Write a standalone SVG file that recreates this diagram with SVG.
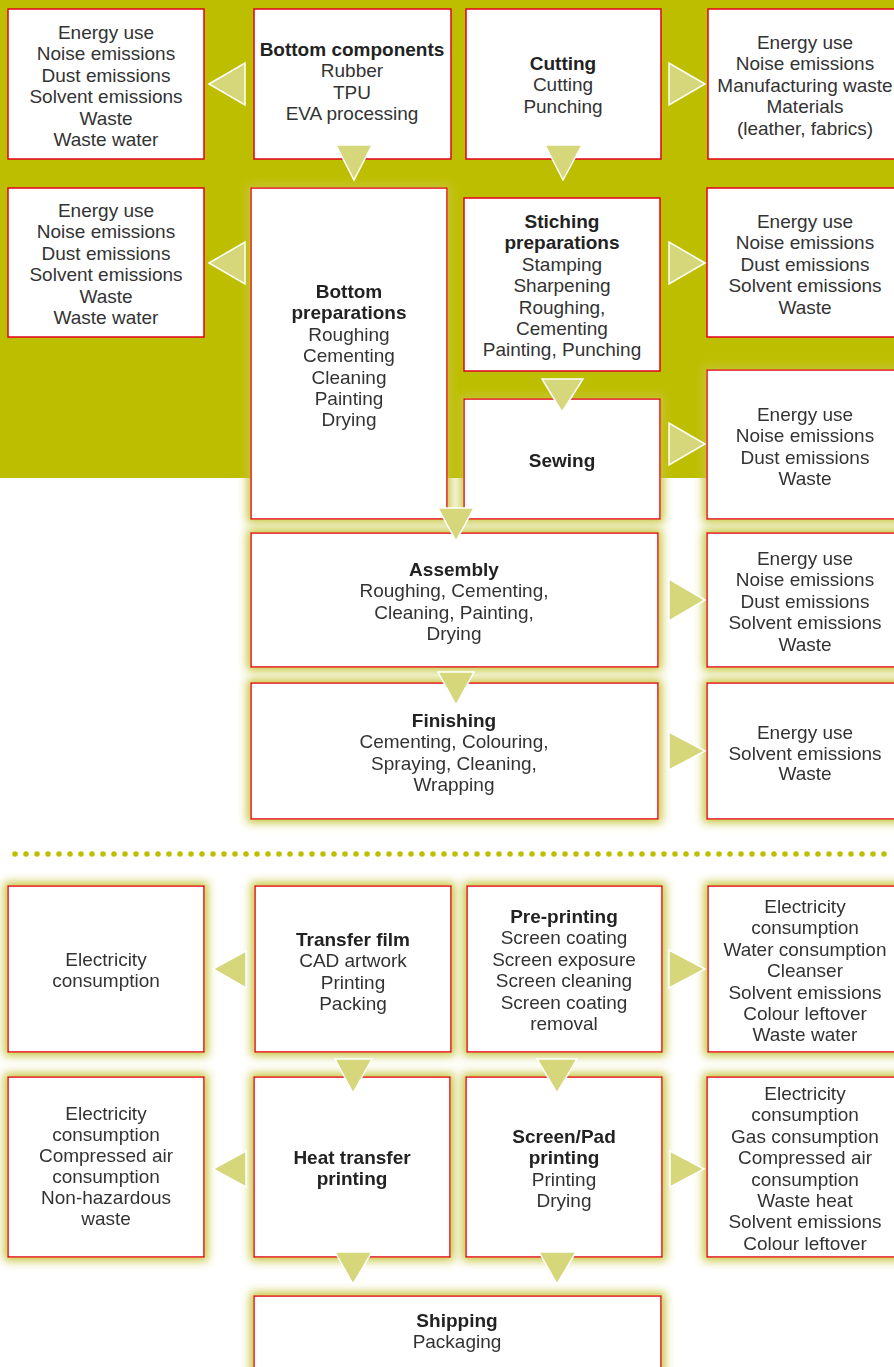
<svg xmlns="http://www.w3.org/2000/svg" width="894" height="1367" viewBox="0 0 894 1367">
  <defs>
    <!-- soft olive halo around each process box -->
    <filter id="glow" x="-20%" y="-20%" width="140%" height="140%">
      <feMorphology in="SourceAlpha" operator="dilate" radius="3" result="grown"/>
      <feGaussianBlur in="grown" stdDeviation="5" result="soft"/>
      <feFlood flood-color="#c4c438" flood-opacity="1"/>
      <feComposite in2="soft" operator="in" result="halo"/>
      <feMerge>
        <feMergeNode in="halo"/>
        <feMergeNode in="SourceGraphic"/>
      </feMerge>
    </filter>
    <style>
      .box { fill: #ffffff; stroke: #e2001a; stroke-width: 1.5; }
      .glow { filter: url(#glow); }
      .arrow { fill: #d6d67a; stroke: #ffffff; stroke-width: 1.5; stroke-linejoin: miter; }
      text { font-family: "Liberation Sans", Arial, sans-serif; font-size: 19px; fill: #333333; text-anchor: middle; }
      .b { font-weight: bold; fill: #222222; }
    </style>
  </defs>

  <!-- production band background -->
  <rect x="0" y="0" width="894" height="478" fill="#bebe00"/>

  <!-- separator between shoe production and printing -->
  <line x1="15" y1="854" x2="894" y2="854" stroke="#bebe00" stroke-width="5.5" stroke-linecap="round" stroke-dasharray="0 11"/>

  <!-- upper section: shoe production -->
  <g id="bottom-components-effects">
    <rect class="box" x="8" y="9" width="196" height="150"/>
    <text x="106" y="39"><tspan x="106" dy="0">Energy use</tspan><tspan x="106" dy="21.4">Noise emissions</tspan><tspan x="106" dy="21.4">Dust emissions</tspan><tspan x="106" dy="21.4">Solvent emissions</tspan><tspan x="106" dy="21.4">Waste</tspan><tspan x="106" dy="21.4">Waste water</tspan></text>
  </g>
  <g id="bottom-components">
    <rect class="box" x="254" y="9" width="197" height="150"/>
    <text x="352" y="56"><tspan class="b" x="352" dy="0">Bottom components</tspan><tspan x="352" dy="21.4">Rubber</tspan><tspan x="352" dy="21.4">TPU</tspan><tspan x="352" dy="21.4">EVA processing</tspan></text>
  </g>
  <g id="cutting">
    <rect class="box" x="466" y="9" width="195" height="150"/>
    <text x="563" y="70"><tspan class="b" x="563" dy="0">Cutting</tspan><tspan x="563" dy="21.4">Cutting</tspan><tspan x="563" dy="21.4">Punching</tspan></text>
  </g>
  <g id="cutting-effects">
    <rect class="box" x="708" y="9" width="196" height="150"/>
    <text x="805" y="49"><tspan x="805" dy="0">Energy use</tspan><tspan x="805" dy="21.4">Noise emissions</tspan><tspan x="805" dy="21.4">Manufacturing waste</tspan><tspan x="805" dy="21.4">Materials</tspan><tspan x="805" dy="21.4">(leather, fabrics)</tspan></text>
  </g>

  <g id="bottom-preparations-effects">
    <rect class="box" x="8" y="188" width="196" height="149"/>
    <text x="106" y="217"><tspan x="106" dy="0">Energy use</tspan><tspan x="106" dy="21.4">Noise emissions</tspan><tspan x="106" dy="21.4">Dust emissions</tspan><tspan x="106" dy="21.4">Solvent emissions</tspan><tspan x="106" dy="21.4">Waste</tspan><tspan x="106" dy="21.4">Waste water</tspan></text>
  </g>
  <g id="bottom-preparations" class="glow">
    <rect class="box" x="251" y="188" width="196" height="331"/>
    <text x="349" y="298"><tspan class="b" x="349" dy="0">Bottom</tspan><tspan class="b" x="349" dy="21.4">preparations</tspan><tspan x="349" dy="21.4">Roughing</tspan><tspan x="349" dy="21.4">Cementing</tspan><tspan x="349" dy="21.4">Cleaning</tspan><tspan x="349" dy="21.4">Painting</tspan><tspan x="349" dy="21.4">Drying</tspan></text>
  </g>
  <g id="stitching-preparations">
    <rect class="box" x="464" y="198" width="196" height="173"/>
    <text x="562" y="228"><tspan class="b" x="562" dy="0">Stiching</tspan><tspan class="b" x="562" dy="21.4">preparations</tspan><tspan x="562" dy="21.4">Stamping</tspan><tspan x="562" dy="21.4">Sharpening</tspan><tspan x="562" dy="21.4">Roughing,</tspan><tspan x="562" dy="21.4">Cementing</tspan><tspan x="562" dy="21.4">Painting, Punching</tspan></text>
  </g>
  <g id="stitching-preparations-effects">
    <rect class="box" x="707" y="188" width="196" height="149"/>
    <text x="805" y="228"><tspan x="805" dy="0">Energy use</tspan><tspan x="805" dy="21.4">Noise emissions</tspan><tspan x="805" dy="21.4">Dust emissions</tspan><tspan x="805" dy="21.4">Solvent emissions</tspan><tspan x="805" dy="21.4">Waste</tspan></text>
  </g>

  <g id="sewing" class="glow">
    <rect class="box" x="464" y="399" width="196" height="120"/>
    <text class="b" x="562" y="467">Sewing</text>
  </g>
  <g id="sewing-effects" class="glow">
    <rect class="box" x="707" y="370" width="196" height="149"/>
    <text x="805" y="421"><tspan x="805" dy="0">Energy use</tspan><tspan x="805" dy="21.4">Noise emissions</tspan><tspan x="805" dy="21.4">Dust emissions</tspan><tspan x="805" dy="21.4">Waste</tspan></text>
  </g>

  <g id="assembly" class="glow">
    <rect class="box" x="251" y="533" width="407" height="134"/>
    <text x="454" y="576"><tspan class="b" x="454" dy="0">Assembly</tspan><tspan x="454" dy="21.4">Roughing, Cementing,</tspan><tspan x="454" dy="21.4">Cleaning, Painting,</tspan><tspan x="454" dy="21.4">Drying</tspan></text>
  </g>
  <g id="assembly-effects" class="glow">
    <rect class="box" x="707" y="533" width="196" height="134"/>
    <text x="805" y="565"><tspan x="805" dy="0">Energy use</tspan><tspan x="805" dy="21.4">Noise emissions</tspan><tspan x="805" dy="21.4">Dust emissions</tspan><tspan x="805" dy="21.4">Solvent emissions</tspan><tspan x="805" dy="21.4">Waste</tspan></text>
  </g>

  <g id="finishing" class="glow">
    <rect class="box" x="251" y="683" width="407" height="136"/>
    <text x="454" y="727"><tspan class="b" x="454" dy="0">Finishing</tspan><tspan x="454" dy="21.4">Cementing, Colouring,</tspan><tspan x="454" dy="21.4">Spraying, Cleaning,</tspan><tspan x="454" dy="21.4">Wrapping</tspan></text>
  </g>
  <g id="finishing-effects" class="glow">
    <rect class="box" x="707" y="683" width="196" height="136"/>
    <text x="805" y="739"><tspan x="805" dy="0">Energy use</tspan><tspan x="805" dy="20.6">Solvent emissions</tspan><tspan x="805" dy="20.6">Waste</tspan></text>
  </g>

  <!-- lower section: printing -->
  <g id="transfer-film-effects" class="glow">
    <rect class="box" x="8" y="886" width="196" height="166"/>
    <text x="106" y="966"><tspan x="106" dy="0">Electricity</tspan><tspan x="106" dy="21.4">consumption</tspan></text>
  </g>
  <g id="transfer-film" class="glow">
    <rect class="box" x="255" y="886" width="196" height="166"/>
    <text x="353" y="946"><tspan class="b" x="353" dy="0">Transfer film</tspan><tspan x="353" dy="21.4">CAD artwork</tspan><tspan x="353" dy="21.4">Printing</tspan><tspan x="353" dy="21.4">Packing</tspan></text>
  </g>
  <g id="pre-printing" class="glow">
    <rect class="box" x="467" y="886" width="195" height="166"/>
    <text x="564" y="923"><tspan class="b" x="564" dy="0">Pre-printing</tspan><tspan x="564" dy="21.4">Screen coating</tspan><tspan x="564" dy="21.4">Screen exposure</tspan><tspan x="564" dy="21.4">Screen cleaning</tspan><tspan x="564" dy="21.4">Screen coating</tspan><tspan x="564" dy="21.4">removal</tspan></text>
  </g>
  <g id="pre-printing-effects" class="glow">
    <rect class="box" x="708" y="886" width="196" height="166"/>
    <text x="805" y="913"><tspan x="805" dy="0">Electricity</tspan><tspan x="805" dy="21.4">consumption</tspan><tspan x="805" dy="21.4">Water consumption</tspan><tspan x="805" dy="21.4">Cleanser</tspan><tspan x="805" dy="21.4">Solvent emissions</tspan><tspan x="805" dy="21.4">Colour leftover</tspan><tspan x="805" dy="21.4">Waste water</tspan></text>
  </g>

  <g id="heat-transfer-effects" class="glow">
    <rect class="box" x="8" y="1077" width="196" height="180"/>
    <text x="106" y="1120"><tspan x="106" dy="0">Electricity</tspan><tspan x="106" dy="21">consumption</tspan><tspan x="106" dy="21">Compressed air</tspan><tspan x="106" dy="21">consumption</tspan><tspan x="106" dy="21">Non-hazardous</tspan><tspan x="106" dy="21">waste</tspan></text>
  </g>
  <g id="heat-transfer-printing" class="glow">
    <rect class="box" x="254" y="1077" width="196" height="180"/>
    <text x="352" y="1164"><tspan class="b" x="352" dy="0">Heat transfer</tspan><tspan class="b" x="352" dy="21.4">printing</tspan></text>
  </g>
  <g id="screen-pad-printing" class="glow">
    <rect class="box" x="466" y="1077" width="196" height="180"/>
    <text x="564" y="1143"><tspan class="b" x="564" dy="0">Screen/Pad</tspan><tspan class="b" x="564" dy="21.4">printing</tspan><tspan x="564" dy="21.4">Printing</tspan><tspan x="564" dy="21.4">Drying</tspan></text>
  </g>
  <g id="screen-pad-effects" class="glow">
    <rect class="box" x="707" y="1077" width="196" height="180"/>
    <text x="805" y="1100"><tspan x="805" dy="0">Electricity</tspan><tspan x="805" dy="21.4">consumption</tspan><tspan x="805" dy="21.4">Gas consumption</tspan><tspan x="805" dy="21.4">Compressed air</tspan><tspan x="805" dy="21.4">consumption</tspan><tspan x="805" dy="21.4">Waste heat</tspan><tspan x="805" dy="21.4">Solvent emissions</tspan><tspan x="805" dy="21.4">Colour leftover</tspan></text>
  </g>

  <g id="shipping" class="glow">
    <rect class="box" x="254" y="1296" width="407" height="100"/>
    <text x="457" y="1327"><tspan class="b" x="457" dy="0">Shipping</tspan><tspan x="457" dy="21.4">Packaging</tspan></text>
  </g>

  <!-- flow arrows -->
  <g id="connectors">
    <polygon class="arrow" points="209,84 245,63 245,105"/>
    <polygon class="arrow" points="705,84 669,63 669,105"/>
    <polygon class="arrow" points="336,145 372,145 354,180"/>
    <polygon class="arrow" points="545,145 582,145 563,180"/>
    <polygon class="arrow" points="209,263 245,242 245,284"/>
    <polygon class="arrow" points="705,263 669,242 669,284"/>
    <polygon class="arrow" points="542,379 583,379 562,412"/>
    <polygon class="arrow" points="705,444 669,423 669,465"/>
    <polygon class="arrow" points="438,508 474,508 456,541"/>
    <polygon class="arrow" points="705,600 669,579 669,621"/>
    <polygon class="arrow" points="438,672 474,672 456,705"/>
    <polygon class="arrow" points="705,751 669,732 669,770"/>
    <polygon class="arrow" points="213,969 246,951 246,988"/>
    <polygon class="arrow" points="705,969 669,950 669,988"/>
    <polygon class="arrow" points="335,1059 372,1059 353,1093"/>
    <polygon class="arrow" points="537,1059 577,1059 557,1093"/>
    <polygon class="arrow" points="213,1169 246,1151 246,1187"/>
    <polygon class="arrow" points="704,1169 670,1151 670,1187"/>
    <polygon class="arrow" points="335,1252 372,1252 353,1284"/>
    <polygon class="arrow" points="539,1252 576,1252 557,1284"/>
  </g>
</svg>
